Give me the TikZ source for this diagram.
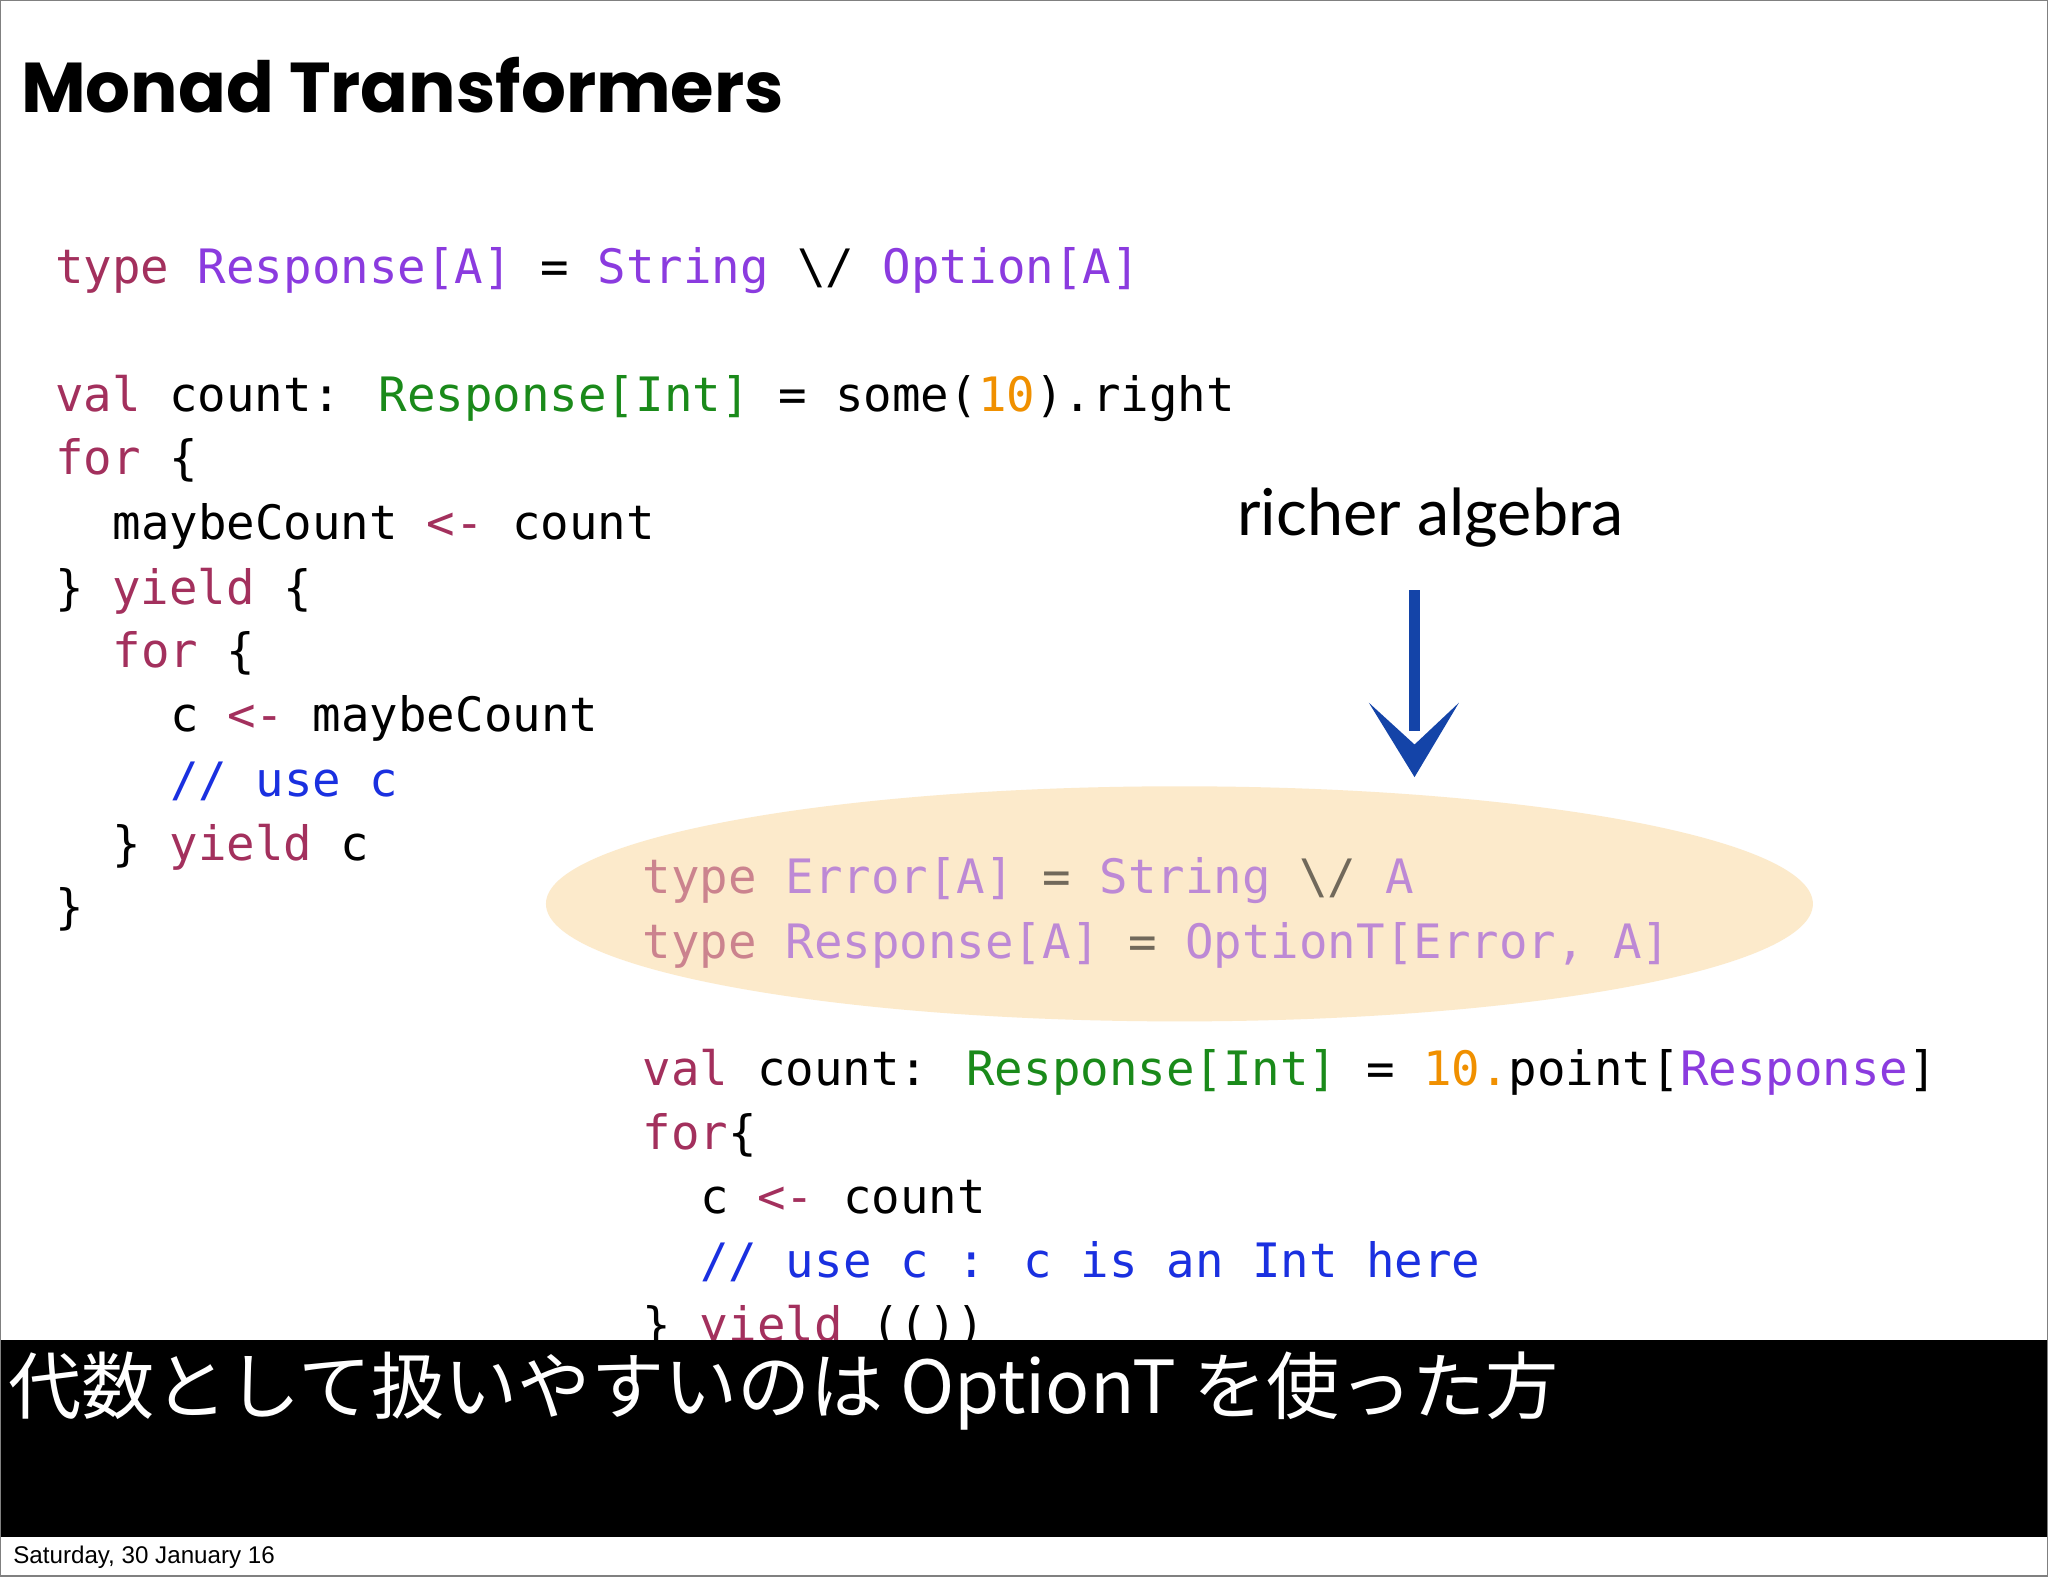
\documentclass[tikz,border=0pt]{standalone}
\usepackage{fontspec}
\setmainfont{Liberation Sans}
\newfontfamily\codefont{DejaVu Sans Mono}
\newfontfamily\titlefont{Poppins Bold}
\newfontfamily\gillfont{Lato}
\newfontfamily\cjk{Noto Sans CJK JP}
\definecolor{kw}{HTML}{A3305D}
\definecolor{ty}{HTML}{8B3BDF}
\definecolor{gr}{HTML}{1A8A1A}
\definecolor{nm}{HTML}{F09000}
\definecolor{cm}{HTML}{1A30E0}
\definecolor{ell}{HTML}{FCEACB}
\definecolor{arr}{HTML}{1444A8}
\newcommand{\kw}[1]{\textcolor{kw}{#1}}
\newcommand{\ty}[1]{\textcolor{ty}{#1}}
\newcommand{\gr}[1]{\textcolor{gr}{#1}}
\newcommand{\nm}[1]{\textcolor{nm}{#1}}
\newcommand{\cmt}[1]{\textcolor{cm}{#1}}
\newcommand{\bs}{\textbackslash}
\begin{document}
\begin{tikzpicture}[x=1pt,y=-1pt,
  code/.style={anchor=base west,inner sep=0pt,font=\codefont\fontsize{36.3}{40}\selectfont},
  faded/.style={code,text opacity=0.55}]
\useasboundingbox (0,0) rectangle (1568,1207);
\fill[white] (0,0) rectangle (1568,1207);
\node[anchor=base west,inner sep=0pt,font=\titlefont\fontsize{54}{58}\selectfont] (title) at (16,86) {Monad Transformers};
% first block
\node[code] (l1) at (42,217) {\kw{type} \ty{Response[A]} = \ty{String} \bs/ \ty{Option[A]}};
\node[code] (l2) at (42,315) {\kw{val} count: \gr{Response[Int]} = some(\nm{10}).right};
\node[code] (l3) at (42,363) {\kw{for} \{};
\node[code] (l4) at (86,413) {maybeCount \kw{<-} count};
\node[code] (l5) at (42,463) {\} \kw{yield} \{};
\node[code] (l6) at (86,511) {\kw{for} \{};
\node[code] (l7) at (130,560) {c \kw{<-} maybeCount};
\node[code] (l8) at (130,610) {\cmt{// use c}};
\node[code] (l9) at (86,659) {\} \kw{yield} c};
\node[code] (l10) at (42,707) {\}};
% ellipse
\fill[ell] (903,692) ellipse [x radius=485, y radius=90];
\node[faded] (m1) at (492,684) {\kw{type} \ty{Error[A]} = \ty{String} \bs/ \ty{A}};
\node[faded] (m2) at (492,734) {\kw{type} \ty{Response[A]} = \ty{OptionT[Error, A]}};
\node[code] (m3) at (492,831) {\kw{val} count: \gr{Response[Int]} = \nm{10.}point[\ty{Response}]};
\node[code] (m4) at (492,880) {\kw{for}\{};
\node[code] (m5) at (536,929) {c \kw{<-} count};
\node[code] (m6) at (536,978) {\cmt{// use c : c is an Int here}};
\node[code] (m7) at (492,1027) {\} \kw{yield} (())};
% richer algebra
\node[anchor=base west,inner sep=0pt,font=\gillfont\fontsize{49.5}{52}\selectfont] (ra) at (947,410) {richer algebra};
\coordinate (at) at (1083,452);
\coordinate (ah) at (1083,595);
\draw[line width=9pt,color=arr] (at) -- (1083,560);
\fill[arr] (1048,538) -- (ah) -- (1117,538) -- (1083,570) -- cycle;
% black band
\fill[black] (0,1026) rectangle (1568,1177);
\node[anchor=base west,inner sep=0pt,text=white,font=\cjk\fontsize{56}{60}\selectfont] (jp) at (6,1082) {代数として扱いやすいのは OptionT を使った方};
\node[anchor=base west,inner sep=0pt,font=\fontsize{18.5}{20}\selectfont] (date) at (10,1197) {Saturday, 30 January 16};
\draw[gray,line width=1pt] (0.5,0.5) rectangle (1567.5,1206.5);
\end{tikzpicture}
\end{document}
